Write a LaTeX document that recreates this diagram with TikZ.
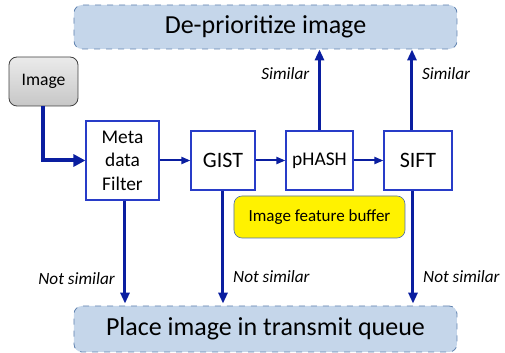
\documentclass[tikz,border=0pt]{standalone}
\usepackage{fontspec}
\setmainfont{Carlito}
\usetikzlibrary{positioning,arrows.meta}
\definecolor{boxblue}{RGB}{40,60,200}
\definecolor{arrowblue}{RGB}{10,30,160}
\definecolor{panelfill}{RGB}{197,214,234}
\definecolor{paneledge}{RGB}{95,130,175}
\definecolor{bufedge}{RGB}{80,110,170}

\begin{document}
\begin{tikzpicture}[x=0.5pt,y=-0.5pt,
	panel/.style={draw=paneledge,dashed,fill=panelfill,rounded corners=4pt,inner sep=0pt,
		minimum width=191.5pt,font=\fontsize{13}{15}\selectfont},
	stage/.style={draw=boxblue,line width=0.6pt,fill=white,inner sep=0pt,minimum height=29.5pt},
	flow/.style={-{Triangle[length=5.5pt,width=4.5pt]},draw=arrowblue,line width=1.5pt},
	chain/.style={-{Triangle[length=4.5pt,width=3.5pt]},draw=arrowblue,line width=1pt},
	verdict/.style={font=\fontsize{8.6}{10}\itshape}]
	\useasboundingbox (0,0) rectangle (505,353);
	%% output panels
	\node[panel,minimum height=22pt] (deprio) at (265.5,27) {De-prioritize image};
	\node[panel,minimum height=23pt] (queue) at (265.5,329) {Place image in transmit queue};
	%% input
	\node[draw=black!75,top color=black!8,bottom color=black!22,rounded corners=4pt,inner sep=0pt,
		minimum width=34.5pt,minimum height=24.5pt,font=\fontsize{8.8}{10}\selectfont] (img) at (43.5,81.5) {Image};
	%% filter stages
	\node[stage,minimum width=36.5pt,minimum height=39.5pt,align=center,
		font=\fontsize{9.7}{11.8}\selectfont] (meta) at (122.5,160.5) {Meta\\data\\Filter};
	\node[stage,minimum width=32pt,font=\fontsize{11}{13}\selectfont] (gist) at (223,160.5) {GIST};
	\node[stage,minimum width=33.5pt,font=\fontsize{9.7}{12}\selectfont] (phash) at (319.5,160.5) {pHASH};
	\node[stage,minimum width=34pt,font=\fontsize{11}{13}\selectfont] (sift) at (418,160.5) {SIFT};
	\node[draw=bufedge,line width=0.3pt,fill=yellow,rounded corners=4pt,inner sep=0pt,minimum width=85.5pt,
		minimum height=21pt,font=\fontsize{8.5}{10}\selectfont] (buffer) at (319.5,217) {Image feature buffer};
	% connectors
	\draw[-{Triangle[length=6pt,width=6pt]},draw=arrowblue,line width=2pt] (img.south) |- (meta.west);
	\draw[chain] (meta) -- (gist);
	\draw[chain] (gist) -- (phash);
	\draw[chain] (phash) -- (sift);
	\draw[flow] (phash.north) -- (phash.north |- deprio.south)
		node[verdict,pos=0.7,left=1pt] {Similar};
	\draw[flow] ([xshift=-3pt]sift.north) -- ([xshift=-3pt]sift.north |- deprio.south)
		node[verdict,pos=0.7,right=1pt] {Similar};
	\draw[flow] ([xshift=1.25pt]meta.south) -- ([xshift=1.25pt,yshift=1pt]meta.south |- queue.north)
		node[verdict,pos=0.76,left=1pt] {Not similar};
	\draw[flow] (gist.south) -- ([yshift=1pt]gist.south |- queue.north)
		node[verdict,pos=0.76,right=1pt] {Not similar};
	\draw[flow] ([xshift=-2.5pt]sift.south) -- ([xshift=-2.5pt,yshift=1pt]sift.south |- queue.north)
		node[verdict,pos=0.76,right=1pt] {Not similar};
\end{tikzpicture}
\end{document}
